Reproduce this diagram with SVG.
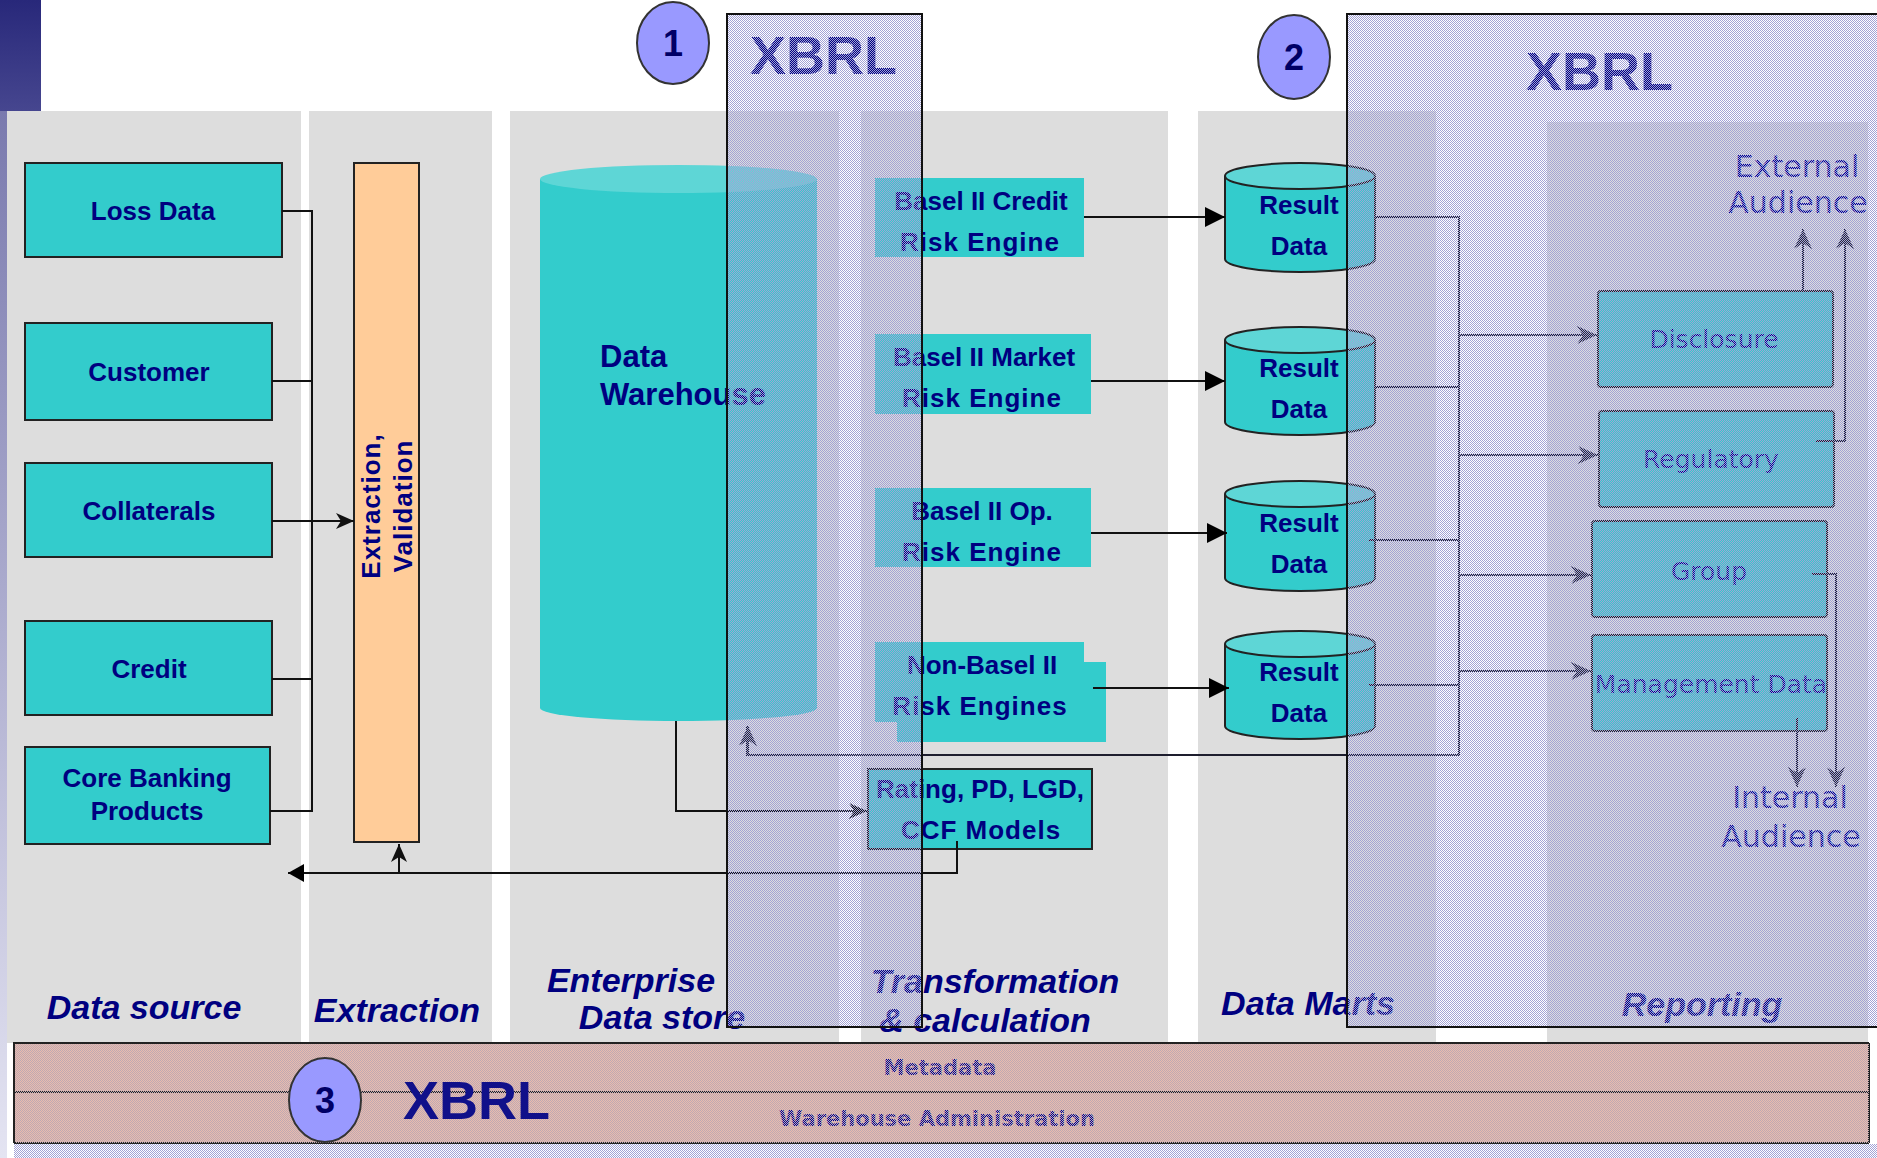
<svg xmlns="http://www.w3.org/2000/svg" width="1877" height="1158" viewBox="0 0 1877 1158">
  <defs>
    <!-- 50% dither used for the XBRL regions -->
    <pattern id="dither" width="2" height="2" patternUnits="userSpaceOnUse">
      <rect x="0" y="0" width="1" height="1" fill="#a2a2d6" shape-rendering="crispEdges"/>
      <rect x="1" y="1" width="1" height="1" fill="#a2a2d6" shape-rendering="crispEdges"/>
    </pattern>
    <pattern id="bandDither" width="2" height="2" patternUnits="userSpaceOnUse">
      <rect x="0" y="0" width="1" height="1" fill="#c0a8b2" shape-rendering="crispEdges"/>
      <rect x="1" y="1" width="1" height="1" fill="#c0a8b2" shape-rendering="crispEdges"/>
    </pattern>
    <linearGradient id="cornerGrad" x1="0" y1="0" x2="0" y2="1">
      <stop offset="0" stop-color="#28287a"/>
      <stop offset="1" stop-color="#46468f"/>
    </linearGradient>
    <linearGradient id="edgeGrad" x1="0" y1="0" x2="0" y2="1">
      <stop offset="0" stop-color="#7a7aae"/>
      <stop offset="1" stop-color="#e4e4f2"/>
    </linearGradient>
    <marker id="tri" markerUnits="userSpaceOnUse" markerWidth="20" markerHeight="20" refX="20" refY="10" orient="auto">
      <path d="M0,0 L20,10 L0,20 Z" fill="#000"/>
    </marker>
    <marker id="triSmall" markerUnits="userSpaceOnUse" markerWidth="16" markerHeight="18" refX="16" refY="9" orient="auto">
      <path d="M0,0 L16,9 L0,18 Z" fill="#000"/>
    </marker>
    <marker id="stealth" markerUnits="userSpaceOnUse" markerWidth="18" markerHeight="16" refX="18" refY="8" orient="auto">
      <path d="M0,0 L18,8 L0,16 L5,8 Z" fill="#111"/>
    </marker>
    <marker id="stealthGray" markerUnits="userSpaceOnUse" markerWidth="20" markerHeight="18" refX="20" refY="9" orient="auto">
      <path d="M0,0 L20,9 L0,18 L6,9 Z" fill="#2a2a3a"/>
    </marker>
    <style>
      .col { fill: #dddddd; }
      .box { fill: #33cccc; stroke: #222; stroke-width: 2; }
      .flat { fill: #33cccc; }
      .cap { fill: #5ed6d6; }
      .lbl { font-family: "Liberation Sans", Arial, sans-serif; font-weight: bold; font-size: 26px; fill: #000080; text-anchor: middle; }
      .dw { font-family: "Liberation Sans", Arial, sans-serif; font-weight: bold; font-size: 31px; fill: #000080; }
      .colname { font-family: "Liberation Sans", Arial, sans-serif; font-weight: bold; font-style: italic; font-size: 34px; fill: #000080; text-anchor: middle; }
      .rep { font-family: "DejaVu Sans", Verdana, sans-serif; font-size: 25px; fill: #000090; text-anchor: middle; }
      .aud { font-family: "DejaVu Sans", Verdana, sans-serif; font-size: 30px; fill: #000090; text-anchor: middle; }
      .band { font-family: "DejaVu Sans", Verdana, sans-serif; font-weight: bold; font-size: 21px; fill: #00008c; text-anchor: middle; }
      .xbrl { font-family: "Liberation Sans", Arial, sans-serif; font-weight: bold; font-size: 54px; }
      .num { font-family: "Liberation Sans", Arial, sans-serif; font-weight: bold; font-size: 36px; fill: #000066; text-anchor: middle; }
      .badge { fill: #9999ff; stroke: #333; stroke-width: 2; }
      .line { fill: none; stroke: #111; stroke-width: 2; }
      .dline { fill: none; stroke: #1e1e2e; stroke-width: 2; }
    </style>
  </defs>

  <rect x="0" y="0" width="1877" height="1158" fill="#ffffff"/>

  <!-- corner accent -->
  <rect x="0" y="0" width="41" height="111" fill="url(#cornerGrad)"/>
  <rect x="0" y="111" width="7" height="1047" fill="url(#edgeGrad)"/>

  <!-- column backgrounds -->
  <g id="columns">
    <rect class="col" x="7" y="111" width="294" height="932"/>
    <rect class="col" x="309" y="111" width="183" height="932"/>
    <rect class="col" x="510" y="111" width="329" height="932"/>
    <rect class="col" x="861" y="111" width="307" height="932"/>
    <rect class="col" x="1198" y="111" width="238" height="932"/>
    <rect class="col" x="1547" y="122" width="321" height="921"/>
  </g>

  <!-- sources -->
  <g id="loss-data">
    <rect class="box" x="25" y="163" width="257" height="94"/>
    <text class="lbl" x="153" y="220">Loss Data</text>
  </g>
  <g id="customer">
    <rect class="box" x="25" y="323" width="247" height="97"/>
    <text class="lbl" x="149" y="381">Customer</text>
  </g>
  <g id="collaterals">
    <rect class="box" x="25" y="463" width="247" height="94"/>
    <text class="lbl" x="149" y="520">Collaterals</text>
  </g>
  <g id="credit">
    <rect class="box" x="25" y="621" width="247" height="94"/>
    <text class="lbl" x="149" y="678">Credit</text>
  </g>
  <g id="core-banking">
    <rect class="box" x="25" y="747" width="245" height="97"/>
    <text class="lbl" x="147" y="787">Core Banking</text>
    <text class="lbl" x="147" y="820">Products</text>
  </g>

  <!-- extraction -->
  <g id="extraction-validation">
    <rect x="354" y="163" width="65" height="679" fill="#ffcc99" stroke="#222" stroke-width="2"/>
    <text class="lbl" font-size="25" letter-spacing="1" transform="translate(380,506) rotate(-90)">Extraction,</text>
    <text class="lbl" font-size="25" letter-spacing="1" transform="translate(412,506) rotate(-90)">Validation</text>
  </g>

  <!-- enterprise data store -->
  <g id="data-warehouse">
    <path class="flat" d="M540,179 V708 A138.5,13 0 0 0 817,708 V179 Z"/>
    <ellipse class="cap" cx="678.5" cy="179" rx="138.5" ry="14"/>
    <text class="dw" x="600" y="367">Data</text>
    <text class="dw" x="600" y="405">Warehouse</text>
  </g>

  <!-- engines -->
  <g id="credit-engine">
    <rect class="flat" x="875" y="178" width="209" height="79"/>
    <text class="lbl" x="981" y="210">Basel II Credit</text>
    <text class="lbl" x="980" y="251" letter-spacing="1">Risk Engine</text>
  </g>
  <g id="market-engine">
    <rect class="flat" x="875" y="334" width="216" height="80"/>
    <text class="lbl" x="984" y="366">Basel II Market</text>
    <text class="lbl" x="982" y="407" letter-spacing="1">Risk Engine</text>
  </g>
  <g id="op-engine">
    <rect class="flat" x="875" y="488" width="216" height="79"/>
    <text class="lbl" x="982" y="520">Basel II Op.</text>
    <text class="lbl" x="982" y="561" letter-spacing="1">Risk Engine</text>
  </g>
  <g id="non-basel-engines">
    <rect class="flat" x="875" y="642" width="209" height="80"/>
    <rect class="flat" x="897" y="662" width="209" height="80"/>
    <text class="lbl" x="982" y="674">Non-Basel II</text>
    <text class="lbl" x="980" y="715" letter-spacing="1">Risk Engines</text>
  </g>
  <g id="rating-models">
    <rect class="box" x="868" y="769" width="224" height="80"/>
    <text class="lbl" x="980" y="798">Rating, PD, LGD,</text>
    <text class="lbl" x="981" y="839" letter-spacing="1">CCF Models</text>
  </g>

  <!-- data marts -->
  <g id="result-data-1">
    <path class="box" d="M1225,176 V259 A75,13 0 0 0 1375,259 V176"/>
    <ellipse class="cap" cx="1300" cy="176" rx="75" ry="13" stroke="#222" stroke-width="2"/>
    <text class="lbl" x="1299" y="214">Result</text>
    <text class="lbl" x="1299" y="255">Data</text>
  </g>
  <g id="result-data-2">
    <path class="box" d="M1225,340 V422 A75,13 0 0 0 1375,422 V340"/>
    <ellipse class="cap" cx="1300" cy="340" rx="75" ry="13" stroke="#222" stroke-width="2"/>
    <text class="lbl" x="1299" y="377">Result</text>
    <text class="lbl" x="1299" y="418">Data</text>
  </g>
  <g id="result-data-3">
    <path class="box" d="M1225,494 V578 A75,13 0 0 0 1375,578 V494"/>
    <ellipse class="cap" cx="1300" cy="494" rx="75" ry="13" stroke="#222" stroke-width="2"/>
    <text class="lbl" x="1299" y="532">Result</text>
    <text class="lbl" x="1299" y="573">Data</text>
  </g>
  <g id="result-data-4">
    <path class="box" d="M1225,644 V726 A75,13 0 0 0 1375,726 V644"/>
    <ellipse class="cap" cx="1300" cy="644" rx="75" ry="13" stroke="#222" stroke-width="2"/>
    <text class="lbl" x="1299" y="681">Result</text>
    <text class="lbl" x="1299" y="722">Data</text>
  </g>

  <!-- reporting -->
  <g id="disclosure">
    <rect class="box" x="1598" y="291" width="235" height="96" rx="3"/>
    <text class="rep" x="1714" y="348">Disclosure</text>
  </g>
  <g id="regulatory">
    <rect class="box" x="1599" y="411" width="235" height="96" rx="3"/>
    <text class="rep" x="1711" y="468">Regulatory</text>
  </g>
  <g id="group">
    <rect class="box" x="1592" y="521" width="235" height="96" rx="3"/>
    <text class="rep" x="1709" y="580">Group</text>
  </g>
  <g id="management-data">
    <rect class="box" x="1592" y="635" width="235" height="96" rx="3"/>
    <text class="rep" font-size="23" x="1711" y="693">Management Data</text>
  </g>
  <g id="external-audience">
    <text class="aud" x="1797" y="177">External</text>
    <text class="aud" x="1798" y="213">Audience</text>
  </g>
  <g id="internal-audience">
    <text class="aud" x="1790" y="808">Internal</text>
    <text class="aud" x="1791" y="847">Audience</text>
  </g>

  <!-- column titles -->
  <g id="column-titles">
    <text class="colname" x="144" y="1019">Data source</text>
    <text class="colname" x="397" y="1022">Extraction</text>
    <text class="colname" x="631" y="992">Enterprise</text>
    <text class="colname" x="662" y="1029">Data store</text>
    <text class="colname" x="995" y="993">Transformation</text>
    <text class="colname" x="985" y="1032">&amp; calculation</text>
    <text class="colname" x="1308" y="1015">Data Marts</text>
    <text class="colname" x="1702" y="1016">Reporting</text>
  </g>

  <!-- connectors -->
  <g id="connectors">
    <!-- sources into extraction -->
    <path class="line" d="M282,211 H312 M272,381 H312 M272,679 H312 M270,811 H312 M312,210 V812"/>
    <path class="line" d="M272,521 H354" marker-end="url(#stealth)"/>
    <!-- warehouse to models -->
    <path class="line" d="M676,721 V811 H867" marker-end="url(#stealth)"/>
    <!-- models feedback -->
    <path class="line" d="M957,841 V873 H288" marker-end="url(#triSmall)"/>
    <path class="line" d="M399,873 V844" marker-end="url(#stealth)"/>
    <!-- engines to result data -->
    <path class="line" d="M1084,217 H1225" marker-end="url(#tri)"/>
    <path class="line" d="M1091,381 H1225" marker-end="url(#tri)"/>
    <path class="line" d="M1091,533 H1227" marker-end="url(#tri)"/>
    <path class="line" d="M1093,688 H1229" marker-end="url(#tri)"/>
    <!-- result data bus -->
    <path class="dline" d="M1375,217 H1459 M1375,387 H1459 M1369,540 H1459 M1369,685 H1459 M1459,216 V755 H747 V726"/>
    <path class="dline" d="M748,755 V726" marker-end="url(#stealthGray)"/>
    <path class="dline" d="M1459,335 H1597" marker-end="url(#stealthGray)"/>
    <path class="dline" d="M1459,455 H1598" marker-end="url(#stealthGray)"/>
    <path class="dline" d="M1459,575 H1591" marker-end="url(#stealthGray)"/>
    <path class="dline" d="M1459,671 H1591" marker-end="url(#stealthGray)"/>
    <!-- reports to audiences -->
    <path class="dline" d="M1803,291 V229" marker-end="url(#stealthGray)"/>
    <path class="dline" d="M1816,441 H1845 V229" marker-end="url(#stealthGray)"/>
    <path class="dline" d="M1812,574 H1836 V787" marker-end="url(#stealthGray)"/>
    <path class="dline" d="M1797,718 V787" marker-end="url(#stealthGray)"/>
  </g>

  <!-- XBRL region 1 -->
  <g id="xbrl-1">
    <text class="xbrl" x="750" y="74" fill="#000080">XBRL</text>
    <rect x="727" y="14" width="195" height="1013" fill="url(#dither)"/>
    <rect x="727" y="14" width="195" height="1013" fill="none" stroke="#111" stroke-width="2"/>
  </g>

  <!-- XBRL region 2 -->
  <g id="xbrl-2">
    <text class="xbrl" x="1526" y="90" fill="#000080">XBRL</text>
    <rect x="1347" y="14" width="530" height="1013" fill="url(#dither)"/>
    <path d="M1878,14 H1347 V1027 H1878" fill="none" stroke="#111" stroke-width="2"/>
  </g>

  <!-- metadata / administration band (XBRL region 3) -->
  <g id="xbrl-3">
    <rect x="14" y="1043" width="1855" height="100" fill="#e8bcae"/>
    <path d="M14,1092 H1869 M14,1143 H1869 M1869,1043 V1143" fill="none" stroke="#222" stroke-width="2"/>
    <text class="band" x="940" y="1075">Metadata</text>
    <text class="band" x="937" y="1126">Warehouse Administration</text>
    <rect x="14" y="1043" width="1855" height="100" fill="url(#bandDither)"/>
    <rect x="14" y="1144" width="1863" height="14" fill="url(#dither)"/>
    <path d="M14,1043 H1869 M14,1042 V1143" fill="none" stroke="#222" stroke-width="2"/>
    <text class="xbrl" x="403" y="1119" fill="#10108a">XBRL</text>
  </g>

  <!-- numbered badges -->
  <g id="badge-1">
    <ellipse class="badge" cx="673" cy="43" rx="36" ry="41"/>
    <text class="num" x="673" y="56">1</text>
  </g>
  <g id="badge-2">
    <ellipse class="badge" cx="1294" cy="57" rx="36" ry="42"/>
    <text class="num" x="1294" y="70">2</text>
  </g>
  <g id="badge-3">
    <ellipse class="badge" cx="325" cy="1100" rx="36" ry="42"/>
    <text class="num" x="325" y="1113">3</text>
  </g>
</svg>
